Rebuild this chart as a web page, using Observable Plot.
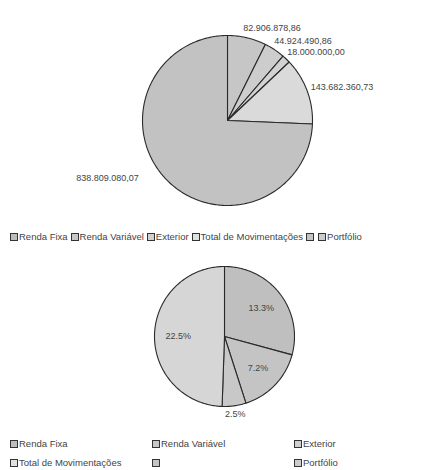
<!DOCTYPE html>
<html>
<head>
<meta charset="utf-8">
<script src="https://cdn.jsdelivr.net/npm/d3@7"></script>
<script src="https://cdn.jsdelivr.net/npm/@observablehq/plot@0.6"></script>
<style>
  html, body { margin: 0; padding: 0; background: #fff; }
  #root { position: relative; width: 444px; height: 470px; overflow: hidden; font-family: "Liberation Sans", Arial, sans-serif; color: #444; }
  .legend { position: absolute; left: 0; font-size: 9.5px; color: #444; white-space: nowrap; }
  .sw { display: inline-block; width: 6px; height: 6px; border: 1px solid #333; vertical-align: -1px; margin-right: 1px; }
  .item { display: inline-block; margin-right: 3px; }
  .grid { display: grid; grid-template-columns: 142px 142px 142px; row-gap: 8px; left: 10px; }
</style>
</head>
<body>
<div id="root"></div>
<script>
// ---- data ----
const legendLabels = ["Renda Fixa", "Renda Variável", "Exterior", "Total de Movimentações", "", "Portfólio"];
const topKeys = ["A", "B", "C", "D", "E"];
const topValues = [82906878.86, 44924490.86, 18000000.00, 143682360.73, 838809080.07];
const topLabels = ["82.906.878,86", "44.924.490,86", "18.000.000,00", "143.682.360,73", "838.809.080,07"];
const bottomKeys = ["A", "B", "C", "D"];
const bottomValues = [13.3, 7.2, 2.5, 22.5];
const bottomLabels = ["13.3%", "7.2%", "2.5%", "22.5%"];

// ---- styling ----
const topFills = ["#c6c6c6", "#cdcdcd", "#d2d2d2", "#dadada", "#c2c2c2"];
const bottomFills = ["#bfbfbf", "#c4c4c4", "#c8c8c8", "#d6d6d6"];
const legendFills = ["#bdbdbd", "#c8c8c8", "#d0d0d0", "#e0e0e0", "#c4c4c4", "#cccccc"];

function slices(keys, values) {
  const total = d3.sum(values);
  let a = 0;
  return values.map((v, i) => {
    const a0 = a, a1 = a + (v / total) * 2 * Math.PI;
    a = a1;
    return {key: keys[i], value: v, a0, a1, mid: (a0 + a1) / 2, share: v / total};
  });
}
function polygons(sl) {
  const pts = [];
  for (const s of sl) {
    pts.push({key: s.key, x: 0, y: 0});
    const n = Math.max(2, Math.ceil((s.a1 - s.a0) / (Math.PI / 180)));
    for (let k = 0; k <= n; k++) {
      const t = s.a0 + (s.a1 - s.a0) * k / n;
      pts.push({key: s.key, x: Math.sin(t), y: Math.cos(t)});
    }
  }
  return pts;
}
function domains(width, height, cx, cy, r) {
  return {
    x: [-cx / r, (width - cx) / r],
    y: [-(height - cy) / r, cy / r]
  };
}

const root = document.getElementById("root");

// ---- top pie ----
{
  const W = 444, H = 215, cx = 227, cy = 120, r = 85;
  const sl = slices(topKeys, topValues);
  const labs = sl.map((s, i) => {
    const rr = 1.12;
    return {x: Math.sin(s.mid) * rr, y: Math.cos(s.mid) * rr, text: topLabels[i], right: Math.sin(s.mid) >= 0};
  });
  const dm = domains(W, H, cx, cy, r);
  const chart = Plot.plot({
    width: W, height: H, margin: 0,
    x: {domain: dm.x, axis: null},
    y: {domain: dm.y, axis: null},
    color: {domain: topKeys, range: topFills},
    style: {background: "#fff"},
    marks: [
      Plot.line(polygons(sl), {x: "x", y: "y", z: "key", fill: "key", stroke: "#2a2a2a", strokeWidth: 1.1, curve: "linear-closed"}),
      Plot.text(labs.filter(d => d.right), {x: "x", y: "y", text: "text", textAnchor: "start", dx: -6, fontSize: 9, fill: "#444", fontFamily: "Liberation Sans, Arial, sans-serif"}),
      Plot.text(labs.filter(d => !d.right), {x: "x", y: "y", text: "text", textAnchor: "end", dx: -20, dy: -8, fontSize: 9, fill: "#444", fontFamily: "Liberation Sans, Arial, sans-serif"})
    ]
  });
  chart.style.position = "absolute";
  chart.style.left = "0px";
  chart.style.top = "0px";
  root.appendChild(chart);
}

// ---- top legend ----
{
  const lg = document.createElement("div");
  lg.className = "legend";
  lg.style.top = "231px";
  lg.style.left = "10px";
  lg.innerHTML = legendLabels.map((l, i) =>
    `<span class="item"><span class="sw" style="background:${legendFills[i]}"></span>${l}</span>`).join("");
  root.appendChild(lg);
}

// ---- bottom pie ----
{
  const W = 444, H = 180, top = 250, cx = 224, cy = 336 - 250, r = 70;
  const sl = slices(bottomKeys, bottomValues);
  const labs = sl.map((s, i) => {
    const rr = s.share < 0.08 ? 1.12 : 0.66;
    return {x: Math.sin(s.mid) * rr, y: Math.cos(s.mid) * rr, text: bottomLabels[i]};
  });
  const dm = domains(W, H, cx, cy, r);
  const chart = Plot.plot({
    width: W, height: H, margin: 0,
    x: {domain: dm.x, axis: null},
    y: {domain: dm.y, axis: null},
    color: {domain: bottomKeys, range: bottomFills},
    style: {background: "transparent"},
    marks: [
      Plot.line(polygons(sl), {x: "x", y: "y", z: "key", fill: "key", stroke: "#2a2a2a", strokeWidth: 1.1, curve: "linear-closed"}),
      Plot.text(labs, {x: "x", y: "y", text: "text", fontSize: 9, fill: "#444", fontFamily: "Liberation Sans, Arial, sans-serif"})
    ]
  });
  chart.style.position = "absolute";
  chart.style.left = "0px";
  chart.style.top = top + "px";
  root.appendChild(chart);
}

// ---- bottom legend ----
{
  const lg = document.createElement("div");
  lg.className = "legend grid";
  lg.style.top = "438px";
  lg.innerHTML = legendLabels.map((l, i) =>
    `<span><span class="sw" style="background:${legendFills[i]}"></span>${l}</span>`).join("");
  root.appendChild(lg);
}
</script>
</body>
</html>
